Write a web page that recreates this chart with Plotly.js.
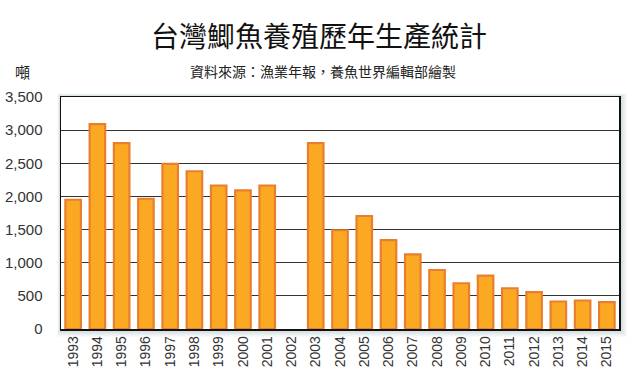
<!DOCTYPE html>
<html>
<head>
<meta charset="utf-8">
<script src="https://cdn.plot.ly/plotly-3.0.1.min.js"></script>
<style>html,body{margin:0;padding:0;background:#fff;}#chart{width:640px;height:376px;}</style>
</head>
<body>
<div id="chart"></div>
<script>
const years = ['1993','1994','1995','1996','1997','1998','1999','2000','2001','2002','2003','2004','2005','2006','2007','2008','2009','2010','2011','2012','2013','2014','2015'];
const production = [1950,3090,2805,1965,2490,2380,2165,2090,2165,null,2805,1490,1705,1340,1125,890,690,805,615,555,415,430,405];
const yTicks = [0,500,1000,1500,2000,2500,3000,3500];
const yTickText = ['0','500','1,000','1,500','2,000','2,500','3,000','3,500'];

const trace = {
  type: 'bar',
  x: years,
  y: production,
  width: 0.64,
  marker: {color: '#FBA823', line: {color: '#E97F2E', width: 2.2}},
  hoverinfo: 'x+y'
};

const L = 61, R = 21, T = 97, B = 47, W = 640, H = 376;
const pw = W - L - R, ph = H - T - B;
const px = x => (x - L) / pw;
const py = y => (H - B - y) / ph;

const shapes = [];
for (let i = 1; i <= 6; i++) {
  shapes.push({type: 'rect', xref: 'paper', yref: 'paper', layer: 'below',
    x0: px(L - i * 0.6), x1: px(W - R + i * 1.3), y0: py(H - B + i * 1.3), y1: py(T - i * 0.6),
    line: {width: 0}, fillcolor: 'rgba(110,135,135,0.06)'});
}
shapes.push({type: 'rect', xref: 'paper', yref: 'paper', layer: 'below',
  x0: 0, x1: 1, y0: 0, y1: 1, line: {width: 0}, fillcolor: '#ffffff'});

const font = '"Liberation Sans", Arial, "Noto Sans CJK TC", sans-serif';
const cjk = '"Noto Sans CJK TC", sans-serif';
const layout = {
  width: W, height: H,
  margin: {l: L, r: R, t: T, b: B},
  paper_bgcolor: '#ffffff',
  plot_bgcolor: 'rgba(0,0,0,0)',
  showlegend: false,
  font: {family: font, color: '#222'},
  shapes: shapes,
  xaxis: {
    type: 'category',
    tickangle: 270,
    automargin: false,
    tickfont: {size: 14, color: '#333'},
    showline: true, linecolor: '#111', linewidth: 1.5, mirror: true,
    ticks: '', showgrid: false
  },
  yaxis: {
    range: [0, 3500],
    automargin: false,
    tickvals: yTicks, ticktext: yTickText,
    tickfont: {size: 15, color: '#333'},
    ticklabelstandoff: 14,
    showgrid: true, gridcolor: '#333', gridwidth: 1,
    showline: true, linecolor: '#111', linewidth: 1.5, mirror: true,
    ticks: '', zeroline: false
  },
  annotations: [
    {text: '台灣鯽魚養殖歷年生產統計', xref: 'paper', x: px(319), xanchor: 'center', yref: 'paper', y: py(35), yanchor: 'middle',
     showarrow: false, font: {size: 28, color: '#111', family: cjk}},
    {text: '資料來源：漁業年報，養魚世界編輯部繪製', xref: 'paper', x: px(323), xanchor: 'center', yref: 'paper', y: py(71), yanchor: 'middle',
     showarrow: false, font: {size: 14, color: '#222', family: cjk}},
    {text: '噸', xref: 'paper', x: px(22), xanchor: 'center', yref: 'paper', y: py(72), yanchor: 'middle',
     showarrow: false, font: {size: 15, color: '#222', family: cjk}}
  ]
};

Plotly.newPlot('chart', [trace], layout, {displayModeBar: false, staticPlot: true});
</script>
</body>
</html>
